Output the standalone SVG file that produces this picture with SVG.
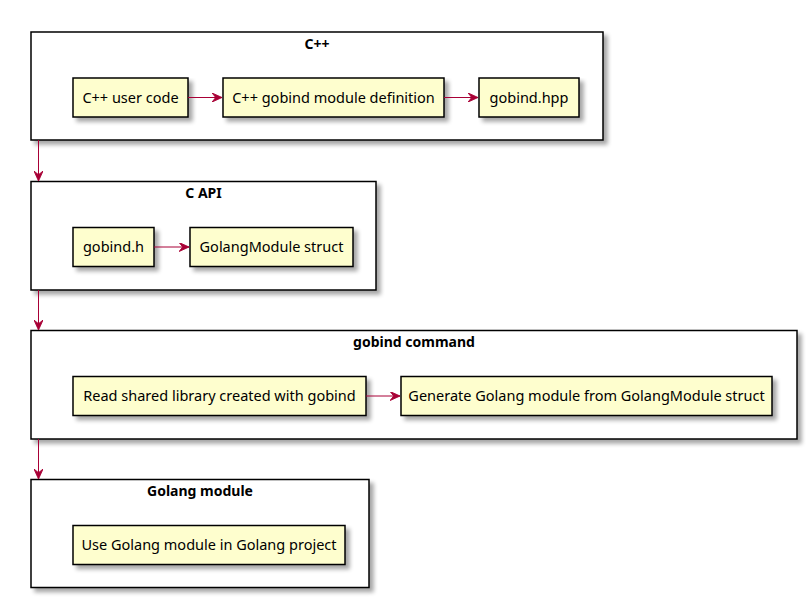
<svg xmlns="http://www.w3.org/2000/svg" width="807" height="598" viewBox="0 0 807 598">
<defs>
<filter id="sh" x="-10%" y="-10%" width="130%" height="140%">
<feGaussianBlur in="SourceAlpha" stdDeviation="2"/>
<feOffset dx="4" dy="4" result="b"/>
<feComponentTransfer><feFuncA type="linear" slope="0.35"/></feComponentTransfer>
<feMerge><feMergeNode/><feMergeNode in="SourceGraphic"/></feMerge>
</filter>
<marker id="ah" viewBox="0 0 12 10" markerWidth="11" markerHeight="9" refX="11" refY="5" orient="auto" markerUnits="userSpaceOnUse">
<path d="M0,0 L11,5 L0,10 L4,5 Z" fill="#A80036" stroke="#A80036" stroke-width="1"/>
</marker>
</defs>
<style>
.cl{fill:#ffffff;stroke:#000000;stroke-width:1.5;filter:url(#sh)}
.nd{fill:#FEFECE;stroke:#000000;stroke-width:1.5;filter:url(#sh)}
.t{font-family:"Noto Sans","Open Sans",sans-serif;font-size:14.5px;fill:#000000;text-anchor:middle}
.b{font-weight:bold;font-size:14px}
.e{stroke:#A80036;stroke-width:1;fill:none;marker-end:url(#ah)}
</style>
<rect width="807" height="598" fill="#ffffff"/>
<g id="cluster-cpp">
<rect class="cl" x="31" y="32" width="572" height="108"/>
<text class="t b" x="317" y="49">C++</text>
</g>
<g id="cluster-capi">
<rect class="cl" x="31" y="181.5" width="345" height="108.5"/>
<text class="t b" x="203.5" y="198">C API</text>
</g>
<g id="cluster-gobind">
<rect class="cl" x="31" y="330.5" width="766" height="108.5"/>
<text class="t b" x="414" y="347">gobind command</text>
</g>
<g id="cluster-golang">
<rect class="cl" x="31" y="479.5" width="338" height="108"/>
<text class="t b" x="200" y="496">Golang module</text>
</g>
<g id="n-user">
<rect class="nd" x="73" y="78" width="115" height="39"/>
<text class="t" x="130.5" y="102.5">C++ user code</text>
</g>
<g id="n-def">
<rect class="nd" x="223" y="78" width="221" height="39"/>
<text class="t" x="333.5" y="102.5">C++ gobind module definition</text>
</g>
<g id="n-hpp">
<rect class="nd" x="479" y="78" width="100" height="39"/>
<text class="t" x="529" y="102.5">gobind.hpp</text>
</g>
<g id="n-h">
<rect class="nd" x="73" y="227.5" width="81" height="39"/>
<text class="t" x="113.5" y="252">gobind.h</text>
</g>
<g id="n-struct">
<rect class="nd" x="190" y="227.5" width="163" height="39"/>
<text class="t" x="271.5" y="252">GolangModule struct</text>
</g>
<g id="n-read">
<rect class="nd" x="73" y="376.5" width="293" height="39"/>
<text class="t" x="219.5" y="401">Read shared library created with gobind</text>
</g>
<g id="n-gen">
<rect class="nd" x="401" y="376.5" width="371" height="39"/>
<text class="t" x="586.5" y="401">Generate Golang module from GolangModule struct</text>
</g>
<g id="n-use">
<rect class="nd" x="73" y="525.5" width="272" height="39"/>
<text class="t" x="209" y="550">Use Golang module in Golang project</text>
</g>
<g id="edges">
<path class="e" d="M188,97.5 L222,97.5"/>
<path class="e" d="M444,97.5 L478,97.5"/>
<path class="e" d="M154,247 L189,247"/>
<path class="e" d="M366,396 L400,396"/>
<path class="e" d="M38.5,140 L38.5,181"/>
<path class="e" d="M38.5,290 L38.5,330"/>
<path class="e" d="M38.5,439 L38.5,479"/>
</g>
</svg>
